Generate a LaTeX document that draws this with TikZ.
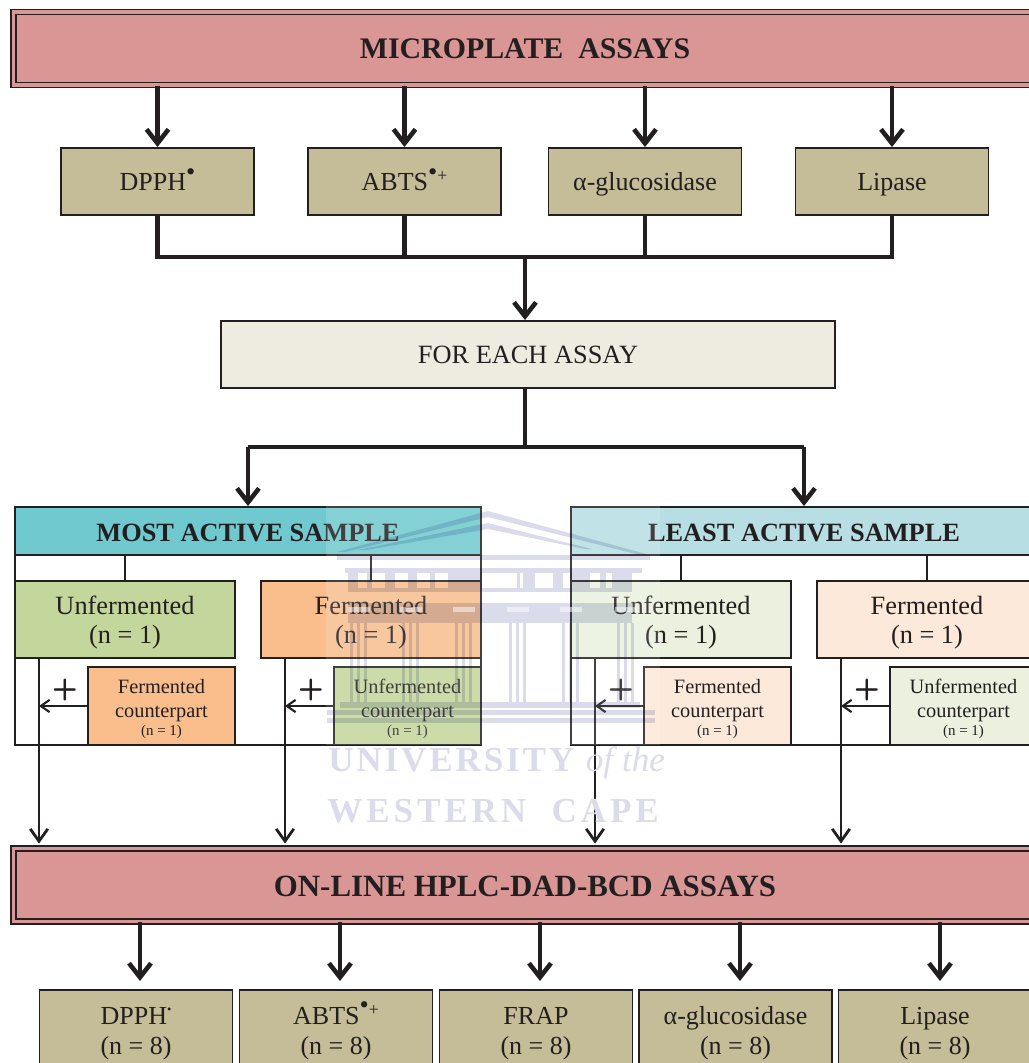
\documentclass[tikz,border=0pt]{standalone}
\usepackage{fontspec}
\setmainfont{Liberation Serif}
\usetikzlibrary{arrows.meta}
\definecolor{inkdark}{HTML}{231F20}
\definecolor{bannerpink}{HTML}{DA9694}
\definecolor{assaytan}{HTML}{C4BD97}
\definecolor{eachcream}{HTML}{EEECE1}
\definecolor{mostteal}{HTML}{6FC9CE}
\definecolor{leastteal}{HTML}{B7DFE3}
\definecolor{greenfull}{HTML}{C3D69B}
\definecolor{orangefull}{HTML}{F9BE8C}
\definecolor{greenpale}{HTML}{EBF1DE}
\definecolor{orangepale}{HTML}{FDE9D9}
\definecolor{crestblue}{HTML}{DADCEC}
\newcommand{\radicaldot}{\smash{\raisebox{0.42em}{\fontsize{15}{15}\selectfont\textbullet}}}
\newcommand{\radicalplus}{\smash{\raisebox{0.36em}{\fontsize{10}{10}\selectfont +}}}
\newcommand{\assaystrut}{\rule[-2.7pt]{0pt}{16.2pt}}
\newcommand{\tallline}[1]{\rule{0pt}{#1}}
\newcommand{\tinycount}{{\fontsize{8.5}{10}\selectfont (n = 1)}}
\tikzset{
  banner/.style={draw=inkdark, line width=0.8pt, double=bannerpink, double distance=2pt, fill=bannerpink,
    inner sep=0pt, minimum width=20.86cm, minimum height=1.46cm},
  bannertext/.style={inner sep=0pt, text=inkdark, font=\fontsize{17}{18}\selectfont\bfseries},
  assay/.style={draw=inkdark, line width=1.1pt, fill=assaytan, inner sep=0pt, minimum width=3.86cm,
    minimum height=1.34cm, text=inkdark, align=center, font=\fontsize{14.8}{17}\selectfont},
  assaytall/.style={assay, minimum height=1.6cm},
  panel/.style={draw=inkdark, line width=1.5pt, inner sep=0pt, minimum height=4.76cm, minimum width=9.32cm},
  head/.style={draw=inkdark, line width=1.1pt, inner sep=0pt, minimum height=0.96cm, minimum width=9.32cm, text=inkdark,
    font=\fontsize{15}{17}\selectfont\bfseries},
  sample/.style={draw=inkdark, line width=1.1pt, inner sep=0pt, minimum width=4.4cm, minimum height=1.54cm,
    text=inkdark, align=center, font=\fontsize{15}{17}\selectfont},
  partner/.style={draw=inkdark, line width=1.1pt, inner sep=0pt, minimum width=2.94cm, minimum height=1.56cm,
    text=inkdark, align=center, font=\fontsize{11.6}{13.5}\selectfont},
  plusmark/.style={inner sep=0pt, text=inkdark, font=\fontsize{17}{17}\selectfont\sffamily\bfseries},
  heavyarrow/.style={draw=inkdark, line width=2.6pt, -{Straight Barb[length=8pt,width=12.5pt,line width=2.6pt]}},
  heavyline/.style={draw=inkdark, line width=2.6pt},
  dropline/.style={draw=inkdark, line width=1.6pt, -{Straight Barb[length=7pt,width=10pt,line width=1.6pt]}},
  tapline/.style={draw=inkdark, line width=1.2pt, -{Straight Barb[length=5pt,width=7pt,line width=1.2pt]}},
  stemline/.style={draw=inkdark, line width=1.3pt},
  crest/.style={fill=crestblue, draw=none, blend mode=multiply},
  cresttext/.style={inner sep=0pt, anchor=west, text=crestblue, font=\fontsize{20}{20}\selectfont\bfseries}
}
\begin{document}
\begin{tikzpicture}[x=0.02cm, y=-0.02cm]
  \clip (0,0) rectangle (1029,1063);

  % top of the chart
  \node[banner] (micro) at (535,48.5) {};
  \node[bannertext] (microtxt) at (525,49) {MICROPLATE\ \ ASSAYS};
  \node[assay] (dpph) at (157.5,181.5) {\assaystrut DPPH\radicaldot};
  \node[assay] (abts) at (404.5,181.5) {\assaystrut ABTS\radicaldot\radicalplus};
  \node[assay] (gluc) at (645,181.5) {\assaystrut α-glucosidase};
  \node[assay] (lipa) at (892,181.5) {\assaystrut Lipase};
  \coordinate (busa) at (525,257);
  \node[draw=inkdark, line width=1.1pt, fill=eachcream, inner sep=0pt, minimum width=12.28cm, minimum height=1.34cm,
    text=inkdark, font=\fontsize{15}{17}\selectfont] (each) at (528,354.5) {\assaystrut FOR EACH ASSAY};
  \coordinate (busb) at (525,447);

  \foreach \name in {dpph,abts,gluc,lipa}
    \draw[heavyarrow] (micro.south -| \name) -- (\name.north);
  \draw[heavyline] (dpph.south) -- (dpph |- busa) -- (lipa |- busa) -- (lipa.south);
  \draw[heavyline] (abts.south) -- (abts |- busa);
  \draw[heavyline] (gluc.south) -- (gluc |- busa);
  \draw[heavyarrow] (busa) -- (busa |- each.north);
  \draw[heavyline] (busa |- each.south) -- (busb);

  % most active side
  \node[panel] (most) at (248,626) {};
  \node[head, fill=mostteal] (mosthead) at (248,531) {\tallline{12.5pt}MOST ACTIVE SAMPLE};
  \node[sample, fill=greenfull] (mostun) at (125,619.5) {\tallline{14pt}Unfermented\\(n = 1)};
  \node[sample, fill=orangefull] (mostfe) at (371,619.5) {\tallline{14pt}Fermented\\(n = 1)};
  \node[partner, fill=orangefull] (mostcofe) at (161.5,706) {\tallline{11.5pt}Fermented\\counterpart\\[-3.5pt]\tinycount};
  \node[partner, fill=greenfull] (mostcoun) at (407.5,706) {\tallline{11.5pt}Unfermented\\counterpart\\[-3.5pt]\tinycount};

  % least active side
  \node[panel] (least) at (804,626) {};
  \node[head, fill=leastteal] (leasthead) at (804,531) {\tallline{12.5pt}LEAST ACTIVE SAMPLE};
  \node[sample, fill=greenpale] (leastun) at (681,619.5) {\tallline{14pt}Unfermented\\(n = 1)};
  \node[sample, fill=orangepale] (leastfe) at (927,619.5) {\tallline{14pt}Fermented\\(n = 1)};
  \node[partner, fill=orangepale] (leastcofe) at (717.5,706) {\tallline{11.5pt}Fermented\\counterpart\\[-3.5pt]\tinycount};
  \node[partner, fill=greenpale] (leastcoun) at (963.5,706) {\tallline{11.5pt}Unfermented\\counterpart\\[-3.5pt]\tinycount};

  \draw[heavyline] (mosthead.north |- busb) -- (leasthead.north |- busb);
  \draw[heavyarrow] (leasthead.north |- busb) -- (leasthead.north);
  \draw[heavyarrow] (mosthead.north |- busb) -- (mosthead.north);

  \foreach \name in {mostun,mostfe,leastun,leastfe}
    \draw[stemline] (\name.north) -- (\name.north |- mosthead.south);

  % bottom of the chart
  \node[banner] (hplc) at (535,885) {};
  \node[bannertext, font=\fontsize{17.6}{18}\selectfont\bfseries] (hplctxt) at (525,886) {ON-LINE HPLC-DAD-BCD ASSAYS};
  \node[assaytall] (ndpph) at (136,1030) {\tallline{14.2pt}DPPH\smash{\raisebox{0.42em}{\fontsize{7}{7}\selectfont\textbullet}}\\(n = 8)};
  \node[assaytall] (nabts) at (336,1030) {\tallline{14.2pt}ABTS\radicaldot\radicalplus\\(n = 8)};
  \node[assaytall] (nfrap) at (536,1030) {\tallline{14.2pt}FRAP\\(n = 8)};
  \node[assaytall] (ngluc) at (735.5,1030) {\tallline{14.2pt}α-glucosidase\\(n = 8)};
  \node[assaytall] (nlipa) at (935,1030) {\tallline{14.2pt}Lipase\\(n = 8)};

  \coordinate (dropa) at (39,658);
  \coordinate (dropb) at (285,658);
  \coordinate (dropc) at (595,658);
  \coordinate (dropd) at (841,658);
  \foreach \drop in {dropa,dropb,dropc,dropd}
    \draw[dropline, shorten >=2.4pt] (\drop) -- (\drop |- hplc.north);
  \draw[tapline] (mostcofe.west) -- (dropa |- mostcofe.west);
  \draw[tapline] (mostcoun.west) -- (dropb |- mostcoun.west);
  \draw[tapline] (leastcofe.west) -- (dropc |- leastcofe.west);
  \draw[tapline] (leastcoun.west) -- (dropd |- leastcoun.west);
  \node[plusmark] (plusa) at (65,690) {+};
  \node[plusmark] (plusb) at (311,690) {+};
  \node[plusmark] (plusc) at (621,690) {+};
  \node[plusmark] (plusd) at (867,690) {+};

  \coordinate (tipa) at (140,981);
  \coordinate (tipb) at (340,981);
  \coordinate (tipc) at (540,981);
  \coordinate (tipd) at (740,981);
  \coordinate (tipe) at (940,981);
  \foreach \tip in {tipa,tipb,tipc,tipd,tipe}
    \draw[heavyarrow] (hplc.south -| \tip) -- (\tip);

  % crest behind the middle
  \fill[white, opacity=0.15] (326,505) rectangle (660,745);
  \fill[crest] (337,552) -- (488,511) -- (650,555) -- (640,555) -- (488,517) -- (345,552) -- cycle;
  \fill[crest] (358,550) -- (488,523) -- (592,549) -- (585,549) -- (488,529) -- (366,550) -- cycle;
  \fill[crest] (337,555) rectangle (650,560);
  \fill[crest] (345,568) rectangle (642,573);
  \foreach \x/\w in {348/10,367/5,385/10,408/9,430/5,448/34,517/3,523/12,553/10,570/20,600/6,612/20}
    \fill[crest] (\x,573) rectangle ++(\w,15);
  \fill[crest] (348,588) rectangle (632,592);
  \fill[crest] (348,603) rectangle (632,623);
  \foreach \col in {348,400,453,507,560,615} {
    \fill[white, opacity=0.5] (\col,607) rectangle ++(22,5);
    \foreach \off in {2,9,16}
      \fill[crest] (\col+\off,623) rectangle ++(3,79);
  }
  \fill[crest] (340,702) rectangle (640,708);
  \fill[crest] (327,710) rectangle (655,715);
  \fill[crest] (327,718) rectangle (655,723);
  \node[cresttext] (crestone) at (328,763) {\addfontfeature{LetterSpace=8}UNIVERSITY {\addfontfeature{LetterSpace=0}\textit{\textmd{of the}}}};
  \node[cresttext] (cresttwo) at (327,811) {\addfontfeature{LetterSpace=11}WESTERN\ \ CAPE};
\end{tikzpicture}
\end{document}
